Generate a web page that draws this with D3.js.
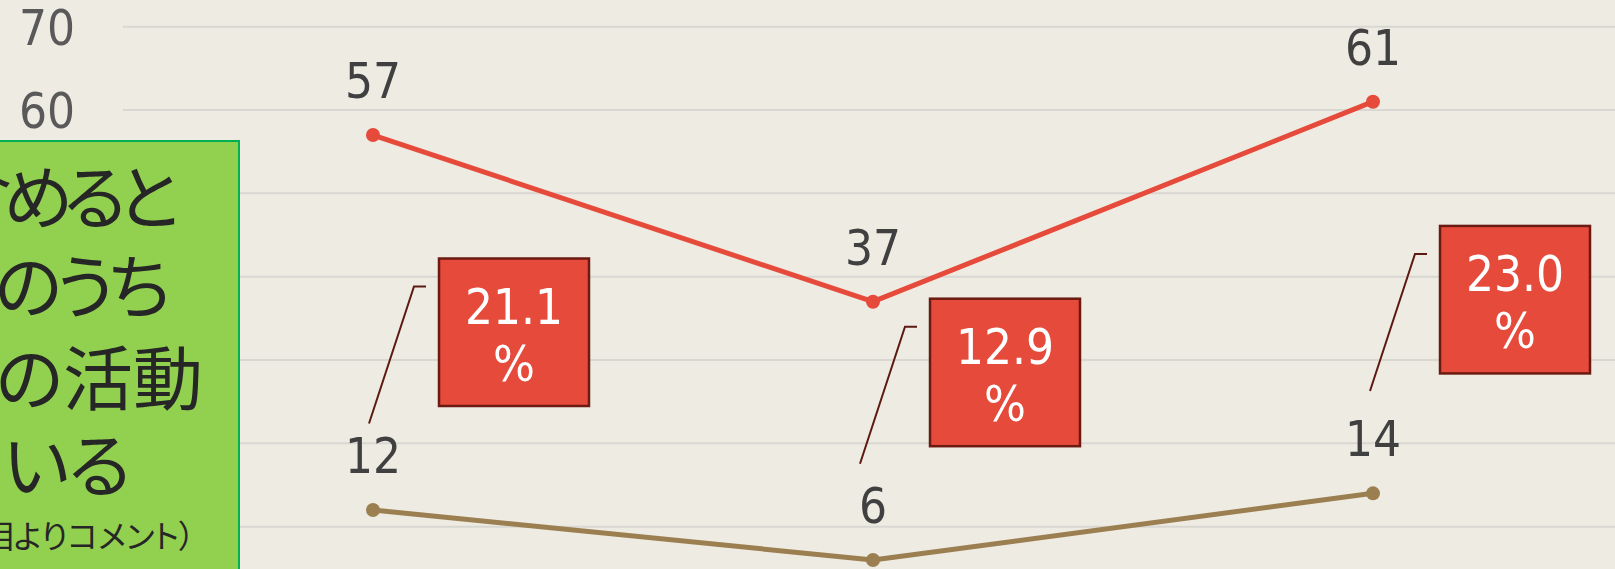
<!DOCTYPE html>
<html>
<head>
<meta charset="utf-8">
<script src="https://cdn.jsdelivr.net/npm/d3@7"></script>
<style>
  html, body { margin: 0; padding: 0; background: #eeebe3; overflow: hidden; }
  svg { display: block; }
  .jp { font-family: 'Noto Sans CJK JP', sans-serif; font-feature-settings: "palt" 1; }
</style>
</head>
<body>
<div id="chart"></div>
<script>
// data
const categories = ["区分1", "区分2", "区分3"];
const upperValues = [57, 37, 61];
const lowerValues = [12, 6, 14];
const shareValues = [21.1, 12.9, 23.0];
const yTicks = [0, 10, 20, 30, 40, 50, 60, 70];
const noteLines = ["含めると", "者のうち", "何らかの活動", "している"];
const noteSource = "（首相よりコメント）";

// layout of the call-out boxes, relative to the lower point
const calloutDx = [66, 57, 67];
const calloutDy = [-251.5, -261.3, -267.4];

const width = 1615, height = 569;
const svg = d3.select("#chart").append("svg")
	.attr("width", width)
	.attr("height", height);

const x = d3.scaleBand().domain(categories).range([123, 1623]);
const cx = (c) => x(c) + x.bandwidth() / 2;
const y = d3.scaleLinear().domain([0, 70]).range([610, 26.7]);

const numFont = "'DejaVu Sans Condensed', 'DejaVu Sans', sans-serif";
const numSize = 49;

// gridlines
svg.append("g")
	.selectAll("line")
	.data(yTicks)
	.join("line")
	.attr("x1", x.range()[0])
	.attr("x2", x.range()[1])
	.attr("y1", (d) => y(d))
	.attr("y2", (d) => y(d))
	.attr("stroke", "#d9d7d2")
	.attr("stroke-width", 2);

// y axis labels (the lower ones sit behind the note box)
svg.append("g")
	.selectAll("text")
	.data(yTicks)
	.join("text")
	.attr("x", 75)
	.attr("y", (d) => y(d) + 18)
	.attr("text-anchor", "end")
	.attr("font-family", numFont)
	.attr("font-size", numSize)
	.attr("fill", "#595959")
	.text((d) => d);

// series
const series = [
	{ values: upperValues, color: "#e54a3a" },
	{ values: lowerValues, color: "#9b7f50" },
];
const line = d3.line().x((d) => cx(d.c)).y((d) => y(d.v));

series.forEach((s) => {
	const pts = categories.map((c, i) => ({ c, v: s.values[i] }));
	const g = svg.append("g");
	g.append("path")
		.datum(pts)
		.attr("d", line)
		.attr("fill", "none")
		.attr("stroke", s.color)
		.attr("stroke-width", 5)
		.attr("stroke-linejoin", "round");
	g.selectAll("circle")
		.data(pts)
		.join("circle")
		.attr("cx", (d) => cx(d.c))
		.attr("cy", (d) => y(d.v))
		.attr("r", 7)
		.attr("fill", s.color);
	g.selectAll("text")
		.data(pts)
		.join("text")
		.attr("x", (d) => cx(d.c))
		.attr("y", (d) => y(d.v) - 37)
		.attr("text-anchor", "middle")
		.attr("font-family", numFont)
		.attr("font-size", numSize)
		.attr("fill", "#404040")
		.text((d) => d.v);
});

// call-outs with the share
const boxW = 150, boxH = 147.5;
const callout = svg.append("g")
	.selectAll("g")
	.data(categories.map((c, i) => ({ c, i, share: shareValues[i] })))
	.join("g")
	.attr("transform", (d) => {
		const bx = cx(d.c) + calloutDx[d.i];
		const by = y(lowerValues[d.i]) + calloutDy[d.i];
		return `translate(${bx},${by})`;
	});

callout.append("path")
	.attr("d", `M-70,165 L-25,28 L-13,28`)
	.attr("fill", "none")
	.attr("stroke", "#5c1a12")
	.attr("stroke-width", 2);

callout.append("rect")
	.attr("width", boxW)
	.attr("height", boxH)
	.attr("fill", "#e54a3a")
	.attr("stroke", "#6b1b12")
	.attr("stroke-width", 2.5);

callout.append("text")
	.attr("x", boxW / 2)
	.attr("y", 65)
	.attr("text-anchor", "middle")
	.attr("font-family", numFont)
	.attr("font-size", numSize)
	.attr("fill", "#ffffff")
	.text((d) => d.share.toFixed(1));

callout.append("text")
	.attr("x", boxW / 2)
	.attr("y", 122)
	.attr("text-anchor", "middle")
	.attr("font-family", numFont)
	.attr("font-size", numSize)
	.attr("fill", "#ffffff")
	.text("%");

// green note box (runs off the left and bottom edge)
const note = svg.append("g");
note.append("rect")
	.attr("x", -20)
	.attr("y", 141)
	.attr("width", 259)
	.attr("height", 460)
	.attr("fill", "#92d050")
	.attr("stroke", "#00b050")
	.attr("stroke-width", 2);

const noteEnds = [170, 164, 203, 130];
const noteBase = [224, 313, 405, 492];
const noteSpacing = [-9, -6, 0, -1];
note.selectAll("text.line")
	.data(noteLines)
	.join("text")
	.attr("class", "line jp")
	.attr("x", (d, i) => noteEnds[i])
	.attr("y", (d, i) => noteBase[i])
	.attr("text-anchor", "end")
	.attr("font-size", 70)
	.attr("letter-spacing", (d, i) => noteSpacing[i])
	.attr("fill", "#262626")
	.text((d) => d);

note.append("text")
	.attr("class", "jp")
	.attr("x", 195)
	.attr("y", 548)
	.attr("text-anchor", "end")
	.attr("font-size", 32)
	.attr("fill", "#262626")
	.text(noteSource);
</script>
</body>
</html>
